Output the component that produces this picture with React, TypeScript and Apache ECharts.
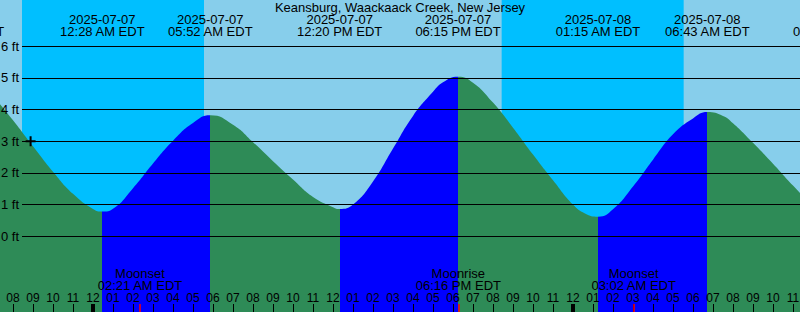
import { useEffect, useRef } from 'react';
import * as echarts from 'echarts';

// ---------- data ----------
const TITLE = 'Keansburg, Waackaack Creek, New Jersey';
const BASE_DATE = '2025-07-07';

// hours since 2025-07-07 00:00 EDT, heights in feet
const tideHours = [-5, -4, -3, -2, -1, 0, 0.4667, 1, 2, 3, 4, 5, 5.8667, 7, 8, 9, 10, 11, 12, 12.3333, 13, 14, 15, 16, 17, 17.5, 18.25, 19, 20, 21, 22, 23, 24, 24.6, 25.25, 26, 27, 28, 29, 30, 30.7167, 31.5, 32, 33, 34, 35, 36];
const tideFeet = [4.44, 3.66, 2.84, 2.04, 1.34, 0.86, 0.78, 0.87, 1.52, 2.3, 3.02, 3.58, 3.82, 3.52, 2.97, 2.37, 1.79, 1.24, 0.92, 0.86, 1.0, 1.73, 2.77, 3.8, 4.56, 4.86, 5.04, 4.85, 4.22, 3.43, 2.58, 1.77, 1.0, 0.72, 0.62, 0.85, 1.57, 2.42, 3.22, 3.72, 3.92, 3.8, 3.57, 2.95, 2.29, 1.6, 0.95];

// high / low tide events
const eventDates = ['2025-07-06', '2025-07-07', '2025-07-07', '2025-07-07', '2025-07-07', '2025-07-08', '2025-07-08', '2025-07-08'];
const eventClocks = ['05:26 PM EDT', '12:28 AM EDT', '05:52 AM EDT', '12:20 PM EDT', '06:15 PM EDT', '01:15 AM EDT', '06:43 AM EDT', '01:08 PM EDT'];
const eventKinds = ['high', 'low', 'high', 'low', 'high', 'low', 'high', 'low'];

// moon events
const moonDates = ['2025-07-07', '2025-07-07', '2025-07-08'];
const moonClocks = ['02:21 AM EDT', '06:16 PM EDT', '03:02 AM EDT'];
const moonKinds = ['Moonset', 'Moonrise', 'Moonset'];

// night periods (sunset -> sunrise)
const nightStartDates = ['2025-07-06', '2025-07-07'];
const nightStartClocks = ['08:27 PM', '08:26 PM'];
const nightEndDates = ['2025-07-07', '2025-07-08'];
const nightEndClocks = ['05:33 AM', '05:32 AM'];

// height grid (ft)
const FT_MIN = 0;
const FT_MAX = 6;

// "+" mark (hours, ft)
const crossMarks = [[-3.12, 3.0]];

// ---------- styles / layout ----------
const FONT = '"Liberation Sans", Arial, Helvetica, sans-serif';
const DAY = '#87CEEB';
const NIGHT = '#00BFFF';
const EBB = '#2E8B57';
const FLOOD = '#0000FF';

const W = 800;
const H = 312;
const PX_PER_HOUR = 20;
const MIDNIGHT_X = 93;
const X_MIN = -8;
const X_MAX = 40;
const ZERO_Y = 236.3;
const PX_PER_FT = 31.68;

function toHours(date: string, clock: string): number {
  const dayDiff = Math.round((Date.parse(date) - Date.parse(BASE_DATE)) / 86400000);
  const m = clock.match(/(\d+):(\d+)\s*(AM|PM)/) as RegExpMatchArray;
  let h = parseInt(m[1], 10) % 12;
  if (m[3] === 'PM') h += 12;
  return dayDiff * 24 + h + parseInt(m[2], 10) / 60;
}

export default function App() {
  const ref = useRef<HTMLDivElement>(null);

  useEffect(() => {
    if (!ref.current) return;
    const chart = echarts.init(ref.current, undefined, { renderer: 'svg' });

    const eventTimes = eventDates.map((d, i) => toHours(d, eventClocks[i]));
    const moonTimes = moonDates.map((d, i) => toHours(d, moonClocks[i]));
    const nights = nightStartDates.map((d, i) => [
      { xAxis: toHours(d, nightStartClocks[i]) },
      { xAxis: toHours(nightEndDates[i], nightEndClocks[i]) },
    ]);

    // visual pieces: rising (after low) = flood, falling (after high) = ebb
    const pieces: any[] = [];
    pieces.push({ lt: eventTimes[0], color: eventKinds[0] === 'high' ? FLOOD : EBB });
    for (let i = 0; i < eventTimes.length - 1; i++) {
      pieces.push({ gte: eventTimes[i], lt: eventTimes[i + 1], color: eventKinds[i] === 'low' ? FLOOD : EBB });
    }
    const last = eventTimes.length - 1;
    pieces.push({ gte: eventTimes[last], color: eventKinds[last] === 'low' ? FLOOD : EBB });

    const left = MIDNIGHT_X + X_MIN * PX_PER_HOUR;
    const right = W - (MIDNIGHT_X + X_MAX * PX_PER_HOUR);
    const yMin = -(H - ZERO_Y) / PX_PER_FT;
    const yMax = ZERO_Y / PX_PER_FT;

    const hourLabel = (v: number) => {
      const h = ((Math.round(v) % 24) + 24) % 24;
      const h12 = h % 12 === 0 ? 12 : h % 12;
      return String(h12).padStart(2, '0');
    };
    const findIdx = (arr: number[], v: number) => {
      let best = 0;
      for (let i = 0; i < arr.length; i++) if (Math.abs(arr[i] - v) < Math.abs(arr[best] - v)) best = i;
      return best;
    };

    const baseX = {
      type: 'value',
      gridIndex: 0,
      min: X_MIN,
      max: X_MAX,
      axisLine: { show: false, onZero: false },
      splitLine: { show: false },
    };

    const option: any = {
      animation: false,
      backgroundColor: DAY,
      textStyle: { fontFamily: FONT, color: '#000' },
      title: {
        text: TITLE,
        left: 'center',
        top: 1,
        padding: 0,
        textStyle: { fontFamily: FONT, fontSize: 13, fontWeight: 'normal', color: '#000', lineHeight: 13 },
      },
      grid: [
        { left, right, top: 0, bottom: 0, containLabel: false, outerBoundsMode: 'none' },
        {
          left: 22,
          right: 0,
          top: ZERO_Y - FT_MAX * PX_PER_FT,
          bottom: H - ZERO_Y + FT_MIN * PX_PER_FT,
          containLabel: false,
          outerBoundsMode: 'none',
        },
      ],
      xAxis: [
        {
          ...baseX,
          position: 'bottom',
          interval: 1,
          axisTick: { show: true, inside: true, length: 8, lineStyle: { color: '#000', width: 1 } },
          axisLabel: {
            show: true,
            inside: true,
            margin: 8.5,
            verticalAlign: 'bottom',
            fontSize: 12,
            lineHeight: 12,
            color: '#000',
            fontFamily: FONT,
            formatter: hourLabel,
          },
          z: 6,
        },
        {
          ...baseX,
          position: 'bottom',
          axisTick: {
            show: true,
            inside: true,
            length: 8,
            customValues: moonTimes,
            lineStyle: { color: '#FF0000', width: 1.5 },
          },
          axisLabel: {
            show: true,
            inside: true,
            margin: 21,
            verticalAlign: 'bottom',
            fontSize: 13,
            lineHeight: 11.5,
            color: '#000',
            fontFamily: FONT,
            customValues: moonTimes,
            formatter: (v: number) => {
              const i = findIdx(moonTimes, v);
              return moonKinds[i] + '\n' + moonClocks[i];
            },
          },
          z: 6,
        },
        {
          ...baseX,
          position: 'bottom',
          axisTick: {
            show: true,
            inside: true,
            length: 8,
            customValues: [0, 24],
            lineStyle: { color: '#000', width: 4 },
          },
          axisLabel: { show: false },
          z: 7,
        },
        {
          ...baseX,
          position: 'top',
          axisTick: { show: false },
          axisLabel: {
            show: true,
            inside: true,
            margin: 12.75,
            verticalAlign: 'top',
            fontSize: 13,
            lineHeight: 12.5,
            color: '#000',
            fontFamily: FONT,
            customValues: eventTimes,
            formatter: (v: number) => {
              const i = findIdx(eventTimes, v);
              return eventDates[i] + '\n' + eventClocks[i];
            },
          },
          z: 6,
        },
        { type: 'value', gridIndex: 1, min: 0, max: 1, show: false },
      ],
      yAxis: [
        { type: 'value', gridIndex: 0, min: yMin, max: yMax, show: false, axisLine: { onZero: false } },
        {
          type: 'value',
          gridIndex: 1,
          min: FT_MIN,
          max: FT_MAX,
          interval: 1,
          z: 10,
          axisLine: { show: false, onZero: false },
          axisTick: { show: false },
          splitLine: { show: true, lineStyle: { color: '#000', width: 1.2 } },
          axisLabel: {
            show: true,
            margin: 3,
            fontSize: 13,
            color: '#000',
            fontFamily: FONT,
            formatter: '{value} ft',
          },
        },
      ],
      visualMap: {
        type: 'piecewise',
        show: false,
        dimension: 0,
        seriesIndex: 0,
        pieces,
      },
      series: [
        {
          type: 'line',
          xAxisIndex: 0,
          yAxisIndex: 0,
          data: tideHours.map((t, i) => [t, tideFeet[i]]),
          smooth: 0.5,
          showSymbol: false,
          symbol: 'none',
          lineStyle: { width: 0 },
          areaStyle: { opacity: 1, origin: 'start' },
          z: 3,
          silent: true,
          markArea: {
            silent: true,
            z: 1,
            itemStyle: { color: NIGHT, opacity: 1, borderWidth: 0 },
            label: { show: false },
            data: nights,
          },
        },
        {
          type: 'scatter',
          xAxisIndex: 0,
          yAxisIndex: 0,
          data: crossMarks,
          symbol: 'path://M0,4L10,4L10,6L0,6Z M4,0L6,0L6,10L4,10Z',
          symbolSize: 10,
          itemStyle: { color: '#000', opacity: 1 },
          z: 12,
          silent: true,
        },
      ],
    };

    chart.setOption(option);
    return () => chart.dispose();
  }, []);

  return (
    <div
      ref={ref}
      style={{ position: 'fixed', left: 0, top: 0, width: W, height: H }}
    />
  );
}
